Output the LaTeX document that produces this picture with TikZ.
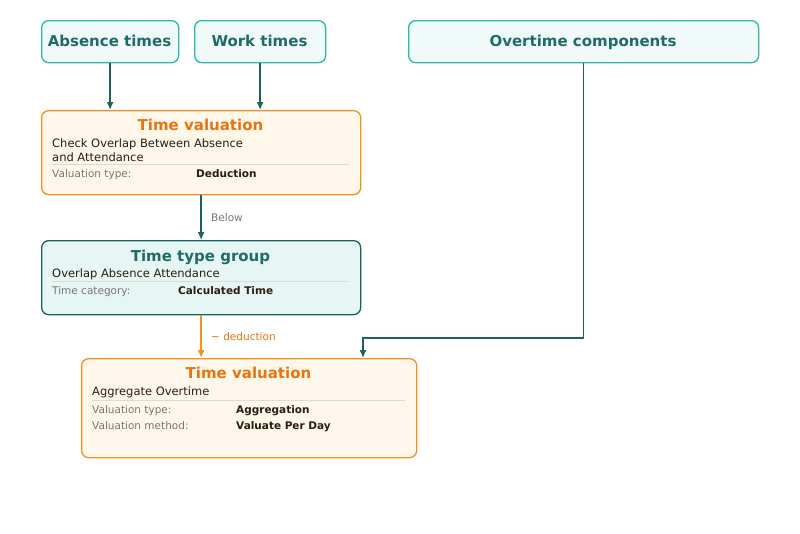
\documentclass[tikz,border=0pt]{standalone}
\usepackage{fontspec}
\setmainfont{DejaVu Sans}
\usetikzlibrary{arrows.meta}
\definecolor{srcborder}{HTML}{2BB8AF}
\definecolor{srcfill}{HTML}{F0FAF9}
\definecolor{tealtext}{HTML}{1F6B66}
\definecolor{tealline}{HTML}{1E625E}
\definecolor{orborder}{HTML}{F5901E}
\definecolor{orfill}{HTML}{FFF7EA}
\definecolor{ortext}{HTML}{E8740F}
\definecolor{grpborder}{HTML}{1D5F5A}
\definecolor{grpfill}{HTML}{E6F6F5}
\definecolor{bodytext}{HTML}{2B1D0E}
\definecolor{labeltext}{HTML}{7A7570}
\definecolor{sepline}{HTML}{DCDCD4}
\tikzset{
  boxbase/.style={rounded corners=7pt, line width=1.3pt, anchor=north west, inner sep=0pt},
  srcbox/.style={boxbase, draw=srcborder, fill=srcfill, text=tealtext, font=\fontsize{15}{18}\selectfont\bfseries},
  valbox/.style={boxbase, draw=orborder, fill=orfill},
  grpbox/.style={boxbase, draw=grpborder, fill=grpfill},
  titletxt/.style={anchor=base, inner sep=0pt, font=\fontsize{15}{18}\selectfont\bfseries},
  bodytxt/.style={anchor=base west, inner sep=0pt, text=bodytext, font=\fontsize{11.5}{14}\selectfont},
  labtxt/.style={anchor=base west, inner sep=0pt, text=labeltext, font=\fontsize{10.5}{13}\selectfont},
  valtxt/.style={anchor=base west, inner sep=0pt, text=bodytext, font=\fontsize{10.5}{13}\selectfont\bfseries},
  sep/.style={draw=sepline, line width=0.8pt},
  tealarrow/.style={draw=tealline, line width=1.4pt, -{Latex[length=8pt,width=7pt]}},
  orarrow/.style={draw=orborder, line width=1.4pt, -{Latex[length=8pt,width=7pt]}},
  edgetxt/.style={anchor=base west, inner sep=0pt, font=\fontsize{10.5}{13}\selectfont}
}
\begin{document}
\begin{tikzpicture}[x=1pt,y=-1pt]
\useasboundingbox[fill=white] (0,0) rectangle (800,533);

% source boxes
\node[srcbox, minimum width=137pt, minimum height=42pt] (abs) at (41,20) {};
\node[titletxt, text=tealtext] (absT) at (109.5,46) {Absence times};
\node[srcbox, minimum width=131pt, minimum height=42pt] (work) at (194,20) {};
\node[titletxt, text=tealtext] (workT) at (259.5,46) {Work times};
\node[srcbox, minimum width=350pt, minimum height=42pt] (ot) at (408,20) {};
\node[titletxt, text=tealtext] (otT) at (583,46) {Overtime components};

% time valuation 1
\node[valbox, minimum width=319pt, minimum height=84pt] (tv1) at (41,110) {};
\node[titletxt, text=ortext] (tv1T) at (200.5,130) {Time valuation};
\node[bodytxt] (tv1a) at (52,147) {Check Overlap Between Absence};
\node[bodytxt] (tv1b) at (52,161) {and Attendance};
\coordinate (tv1s1) at (52,164.5);
\coordinate (tv1s2) at (349,164.5);
\draw[sep] (tv1s1) -- (tv1s2);
\node[labtxt] (tv1l) at (52,177) {Valuation type:};
\node[valtxt] (tv1v) at (196,177) {Deduction};

% time type group
\node[grpbox, minimum width=319pt, minimum height=74pt] (ttg) at (41,240) {};
\node[titletxt, text=tealtext] (ttgT) at (200.5,261) {Time type group};
\node[bodytxt] (ttga) at (52,277.5) {Overlap Absence Attendance};
\coordinate (ttgs1) at (52,281.5);
\coordinate (ttgs2) at (349,281.5);
\draw[sep] (ttgs1) -- (ttgs2);
\node[labtxt] (ttgl) at (52,294.5) {Time category:};
\node[valtxt] (ttgv) at (178,294.5) {Calculated Time};

% time valuation 2
\node[valbox, minimum width=335pt, minimum height=99pt] (tv2) at (81,358) {};
\node[titletxt, text=ortext] (tv2T) at (248.5,378.5) {Time valuation};
\node[bodytxt] (tv2a) at (92,395.5) {Aggregate Overtime};
\coordinate (tv2s1) at (92,400.5);
\coordinate (tv2s2) at (405,400.5);
\draw[sep] (tv2s1) -- (tv2s2);
\node[labtxt] (tv2l1) at (92,413) {Valuation type:};
\node[valtxt] (tv2v1) at (236,413) {Aggregation};
\node[labtxt] (tv2l2) at (92,429) {Valuation method:};
\node[valtxt] (tv2v2) at (236,429) {Valuate Per Day};

% connectors
\draw[tealarrow] (abs.south) -- (abs.south |- tv1.north);
\draw[tealarrow] (work.south) -- (work.south |- tv1.north);
\draw[tealarrow] (tv1.south) -- (tv1.south |- ttg.north);
\node[edgetxt, text=labeltext] (lbBelow) at (211,221) {Below};
\draw[orarrow] (ttg.south) -- (ttg.south |- tv2.north);
\node[edgetxt, text=ortext] (lbDed) at (211,340) {− deduction};
\coordinate (otbend) at (363,338);
\coordinate (otin) at (363,358);
\draw[tealarrow] (ot.south) |- (otbend) -- (otin);
\end{tikzpicture}
\end{document}
